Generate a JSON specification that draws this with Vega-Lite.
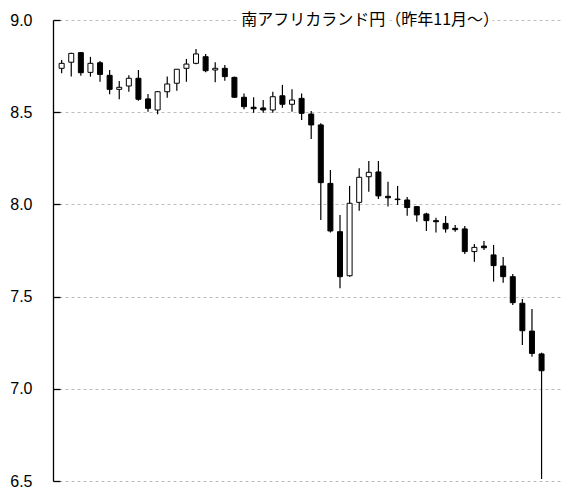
{
  "$schema": "https://vega.github.io/schema/vega-lite/v6.json",
  "width": 507,
  "height": 461,
  "autosize": "none",
  "padding": {"left": 53, "top": 20, "right": 7, "bottom": 22},
  "background": "white",
  "config": {"view": {"stroke": null}},
  "data": {"values": [
    {"i":0,"open":8.738,"high":8.783,"low":8.711,"close":8.765},
    {"i":1,"open":8.771,"high":8.822,"low":8.693,"close":8.819},
    {"i":2,"open":8.823,"high":8.826,"low":8.698,"close":8.714},
    {"i":3,"open":8.716,"high":8.800,"low":8.693,"close":8.765},
    {"i":4,"open":8.768,"high":8.778,"low":8.665,"close":8.705},
    {"i":5,"open":8.700,"high":8.729,"low":8.597,"close":8.624},
    {"i":6,"open":8.624,"high":8.669,"low":8.570,"close":8.635},
    {"i":7,"open":8.642,"high":8.700,"low":8.611,"close":8.684},
    {"i":8,"open":8.684,"high":8.729,"low":8.562,"close":8.570},
    {"i":9,"open":8.572,"high":8.599,"low":8.503,"close":8.521},
    {"i":10,"open":8.512,"high":8.615,"low":8.489,"close":8.611},
    {"i":11,"open":8.611,"high":8.693,"low":8.579,"close":8.653},
    {"i":12,"open":8.657,"high":8.733,"low":8.617,"close":8.733},
    {"i":13,"open":8.738,"high":8.789,"low":8.665,"close":8.761},
    {"i":14,"open":8.765,"high":8.843,"low":8.760,"close":8.816},
    {"i":15,"open":8.801,"high":8.816,"low":8.716,"close":8.725},
    {"i":16,"open":8.729,"high":8.771,"low":8.662,"close":8.738},
    {"i":17,"open":8.738,"high":8.756,"low":8.671,"close":8.693},
    {"i":18,"open":8.689,"high":8.693,"low":8.579,"close":8.581},
    {"i":19,"open":8.581,"high":8.602,"low":8.516,"close":8.530},
    {"i":20,"open":8.527,"high":8.581,"low":8.497,"close":8.519},
    {"i":21,"open":8.523,"high":8.566,"low":8.497,"close":8.512},
    {"i":22,"open":8.512,"high":8.611,"low":8.497,"close":8.584},
    {"i":23,"open":8.589,"high":8.648,"low":8.524,"close":8.543},
    {"i":24,"open":8.543,"high":8.624,"low":8.503,"close":8.566},
    {"i":25,"open":8.575,"high":8.602,"low":8.458,"close":8.494},
    {"i":26,"open":8.490,"high":8.507,"low":8.355,"close":8.431},
    {"i":27,"open":8.431,"high":8.440,"low":7.915,"close":8.118},
    {"i":28,"open":8.114,"high":8.187,"low":7.847,"close":7.856},
    {"i":29,"open":7.852,"high":7.943,"low":7.545,"close":7.608},
    {"i":30,"open":7.613,"high":8.100,"low":7.608,"close":8.006},
    {"i":31,"open":8.011,"high":8.196,"low":7.966,"close":8.147},
    {"i":32,"open":8.150,"high":8.235,"low":8.069,"close":8.174},
    {"i":33,"open":8.176,"high":8.235,"low":8.029,"close":8.046},
    {"i":34,"open":8.044,"high":8.123,"low":7.988,"close":8.036},
    {"i":35,"open":8.029,"high":8.100,"low":7.997,"close":8.026},
    {"i":36,"open":8.024,"high":8.040,"low":7.938,"close":7.983},
    {"i":37,"open":7.988,"high":7.988,"low":7.906,"close":7.943},
    {"i":38,"open":7.948,"high":7.955,"low":7.856,"close":7.912},
    {"i":39,"open":7.912,"high":7.928,"low":7.847,"close":7.906},
    {"i":40,"open":7.897,"high":7.937,"low":7.847,"close":7.867},
    {"i":41,"open":7.870,"high":7.888,"low":7.852,"close":7.863},
    {"i":42,"open":7.867,"high":7.883,"low":7.731,"close":7.744},
    {"i":43,"open":7.744,"high":7.785,"low":7.689,"close":7.767},
    {"i":44,"open":7.774,"high":7.801,"low":7.753,"close":7.765},
    {"i":45,"open":7.726,"high":7.780,"low":7.581,"close":7.668},
    {"i":46,"open":7.666,"high":7.715,"low":7.575,"close":7.608},
    {"i":47,"open":7.608,"high":7.623,"low":7.454,"close":7.467},
    {"i":48,"open":7.464,"high":7.487,"low":7.238,"close":7.315},
    {"i":49,"open":7.313,"high":7.433,"low":7.174,"close":7.192},
    {"i":50,"open":7.189,"high":7.196,"low":6.511,"close":7.098}
  ]},
  "layer": [
    {
      "mark": {"type": "rule", "color": "black", "strokeWidth": 1.2},
      "encoding": {
        "x": {"field": "i", "type": "quantitative", "scale": {"domain": [-0.38, 51.4], "nice": false, "zero": false}, "axis": null},
        "y": {"field": "low", "type": "quantitative", "scale": {"domain": [6.5, 9.0], "nice": false, "zero": false},
          "axis": {"title": null, "values": [6.5, 7.0, 7.5, 8.0, 8.5, 9.0], "format": ".1f",
            "domain": true, "domainColor": "black", "domainWidth": 1.3,
            "ticks": true, "tickColor": "black", "tickSize": -7, "tickWidth": 1.3,
            "grid": true, "gridColor": "#bdbdbd", "gridDash": [3, 3], "gridWidth": 1,
            "labelFont": "Liberation Sans", "labelFontSize": 16, "labelColor": "black", "labelPadding": 28}},
        "y2": {"field": "high"}
      }
    },
    {
      "mark": {"type": "bar", "width": 5, "stroke": "black", "strokeWidth": 1},
      "encoding": {
        "x": {"field": "i", "type": "quantitative", "scale": {"domain": [-0.38, 51.4], "nice": false, "zero": false}},
        "y": {"field": "open", "type": "quantitative"},
        "y2": {"field": "close"},
        "fill": {"condition": {"test": "datum.close >= datum.open", "value": "white"}, "value": "black"}
      }
    },
    {
      "data": {"values": [{"t": "南アフリカランド円（昨年11月～）"}]},
      "mark": {"type": "text", "font": "Noto Sans CJK JP", "fontSize": 16, "align": "center", "baseline": "middle", "color": "white", "stroke": "white", "strokeWidth": 9},
      "encoding": {
        "x": {"datum": 32.15, "type": "quantitative", "scale": {"domain": [-0.38, 51.4], "nice": false, "zero": false}},
        "y": {"datum": 9.0, "type": "quantitative"},
        "text": {"field": "t"}
      }
    },
    {
      "data": {"values": [{"t": "南アフリカランド円（昨年11月～）"}]},
      "mark": {"type": "text", "font": "Noto Sans CJK JP", "fontSize": 16, "align": "center", "baseline": "middle", "color": "black"},
      "encoding": {
        "x": {"datum": 32.15, "type": "quantitative", "scale": {"domain": [-0.38, 51.4], "nice": false, "zero": false}},
        "y": {"datum": 9.0, "type": "quantitative"},
        "text": {"field": "t"}
      }
    }
  ]
}
